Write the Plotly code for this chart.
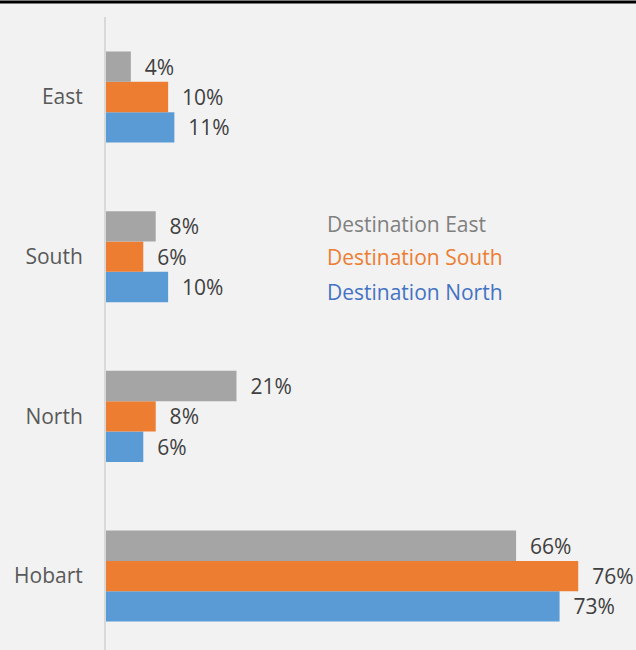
import plotly.graph_objects as go

categories = ["Hobart", "North", "South", "East"]
dest_east = [66, 21, 8, 4]
dest_south = [76, 8, 6, 10]
dest_north = [73, 6, 10, 11]
series_names = ["Destination East", "Destination South", "Destination North"]
bar_colors = ["#A5A5A5", "#ED7D31", "#5B9BD5"]
legend_colors = ["#808080", "#ED7D31", "#4472C4"]

FONT = "'Open Sans', Lato, sans-serif"
NB = "\u00a0\u00a0"

fig = go.Figure()
# add in reverse so gray ends up on top within each group
for name, vals, col in reversed(list(zip(series_names, [dest_east, dest_south, dest_north], bar_colors))):
    fig.add_trace(go.Bar(
        y=categories, x=vals, orientation="h", name=name,
        marker=dict(color=col, line=dict(width=0)),
        text=[f"{NB}{v}%" for v in vals], textposition="outside",
        textfont=dict(size=21, color="#404040", family=FONT),
        constraintext="none", cliponaxis=False,
    ))

fig.update_layout(
    width=636, height=650,
    barmode="group", bargap=0.43, bargroupgap=0,
    paper_bgcolor="#F2F2F2", plot_bgcolor="#F2F2F2",
    margin=dict(l=106, r=0, t=17, b=0),
    showlegend=False,
    font=dict(family=FONT, size=21, color="#595959"),
    xaxis=dict(range=[0, 85.3], visible=False, showgrid=False, zeroline=False),
    yaxis=dict(range=[-0.463, 3.501], showline=True, linecolor="#D9D9D9", linewidth=2,
               showgrid=False, zeroline=False, ticks="", ticklabelstandoff=17,
               tickfont=dict(size=21, color="#595959", family=FONT)),
)

legend_y = [0.673, 0.621, 0.566]
for name, col, yy in zip(series_names, legend_colors, legend_y):
    fig.add_annotation(x=0.413, y=yy, xref="paper", yref="paper", text=name,
                       showarrow=False, xanchor="left", yanchor="middle",
                       font=dict(size=21, color=col, family=FONT))

fig.add_shape(type="line", xref="paper", yref="paper", x0=-0.2, x1=1.0,
              y0=1.0237, y1=1.0237, line=dict(color="black", width=3))

fig.write_html("out.html", config={"displayModeBar": False},
               post_script="document.body.style.margin='0';document.body.style.overflow='hidden';document.body.style.background='#F2F2F2';")
